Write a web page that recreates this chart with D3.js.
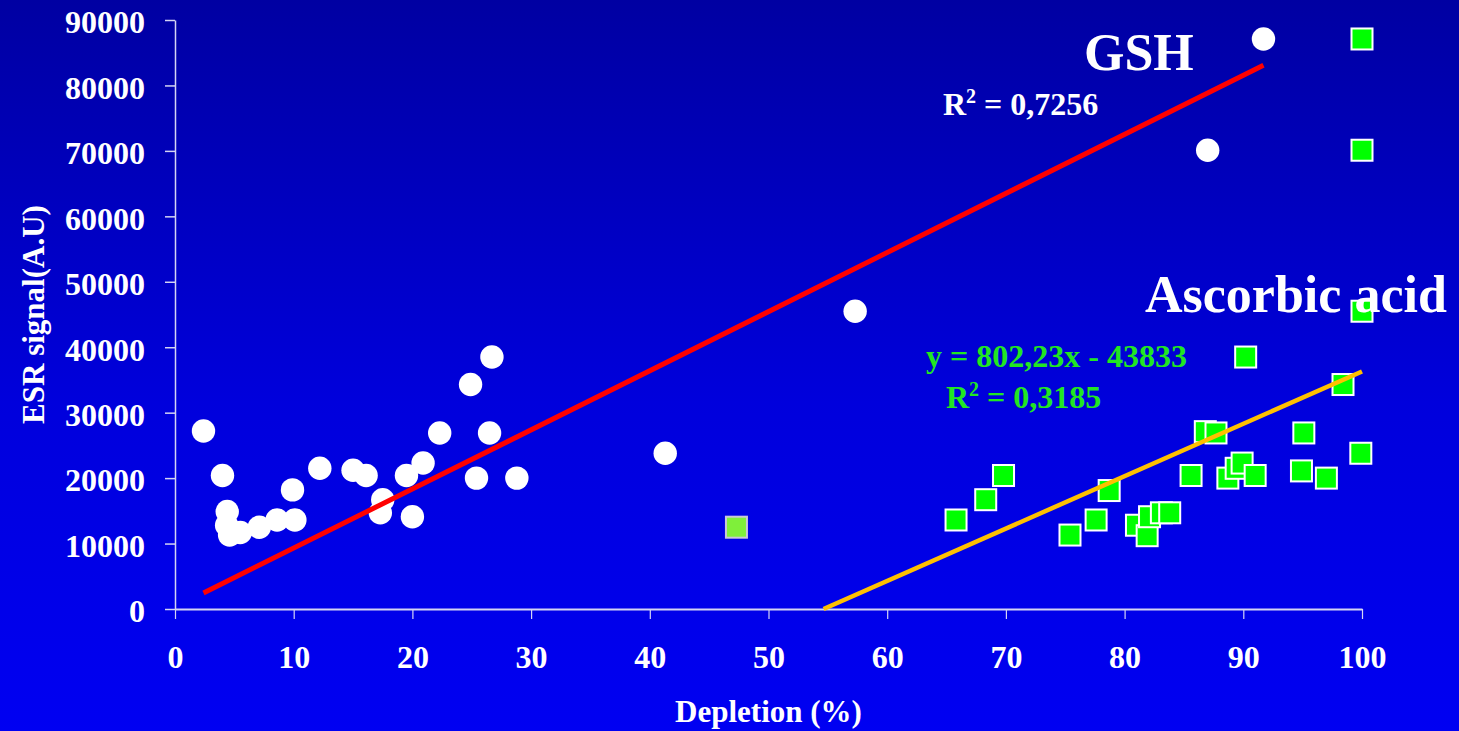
<!DOCTYPE html>
<html>
<head>
<meta charset="utf-8">
<script src="https://cdn.jsdelivr.net/npm/d3@7"></script>
<style>
  html, body { margin: 0; padding: 0; background: #0000c0; overflow: hidden; }
  svg { display: block; font-family: "Liberation Serif", "Times New Roman", serif; font-weight: bold; }
</style>
</head>
<body>
<svg id="chart"></svg>
<script>
// Tick values
const xTicks = [0, 10, 20, 30, 40, 50, 60, 70, 80, 90, 100];
const yTicks = [0, 10000, 20000, 30000, 40000, 50000, 60000, 70000, 80000, 90000];

// GSH series (white circles)
const gshDepletion = [2.4, 4.0, 4.4, 4.35, 4.6, 5.5, 7.1, 8.6, 10.1, 9.9, 12.2, 15.0, 16.1, 19.5,
  20.9, 17.5, 17.3, 20.0, 22.3, 26.5, 24.9, 26.7, 25.4, 28.8, 41.3, 57.3, 87.0, 91.7];
const gshSignal = [27200, 20400, 14900, 12800, 11300, 11700, 12500, 13600, 13600, 18200, 21500, 21200, 20400, 20400,
  22300, 16700, 14700, 14100, 26900, 26900, 34300, 38500, 20000, 20000, 23800, 45500, 70100, 87100];

// Ascorbic acid series (green squares)
const ascDepletion = [65.8, 68.3, 69.8, 75.4, 77.6, 78.7, 81.0, 81.9, 82.1, 83.1, 83.8, 85.6, 86.8, 87.7,
  88.7, 89.4, 89.9, 91.0, 90.2, 94.9, 95.1, 97.0, 98.4, 99.9, 100, 100, 100];
const ascSignal = [13600, 16700, 20400, 11300, 13600, 18100, 12800, 11200, 14100, 14700, 14700, 20400, 27100, 26900,
  20000, 21500, 22300, 20400, 38500, 21100, 26900, 20000, 34300, 23800, 45500, 70100, 87100];
// the one lighter square
const ascOutlierDepletion = [47.3];
const ascOutlierSignal = [12500];

// Trend lines as drawn (endpoints)
const gshTrend = [[2.4, 2450], [91.7, 83100]];
const ascTrend = [[54.64, 0], [100, 36300]];

const width = 1459, height = 731;
const margin = { top: 20, right: 97, bottom: 122, left: 175 };
const innerWidth = width - margin.left - margin.right;
const innerHeight = height - margin.top - margin.bottom;

const svg = d3.select('#chart')
  .attr('width', width)
  .attr('height', height)
  .attr('viewBox', `0 0 ${width} ${height}`);

// Background gradient
const grad = svg.append('defs').append('linearGradient')
  .attr('id', 'bg').attr('x1', 0).attr('y1', 0).attr('x2', 0).attr('y2', 1);
grad.append('stop').attr('offset', '0%').attr('stop-color', '#0000a2');
grad.append('stop').attr('offset', '55%').attr('stop-color', '#0000dc');
grad.append('stop').attr('offset', '100%').attr('stop-color', '#0000f2');
svg.append('rect').attr('width', width).attr('height', height).attr('fill', 'url(#bg)');

const xScale = d3.scaleLinear().domain([0, 100]).range([0, innerWidth]);
const yScale = d3.scaleLinear().domain([0, 90000]).range([innerHeight, 0]);

const g = svg.append('g').attr('transform', `translate(${margin.left}, ${margin.top})`);

const axisColor = '#d4d4f4';
const serif = '"Liberation Serif", "Times New Roman", serif';

// X axis
const xAxis = g.append('g')
  .attr('transform', `translate(0, ${innerHeight})`)
  .call(d3.axisBottom(xScale).tickValues(xTicks).tickFormat(d3.format('d'))
    .tickSize(10).tickSizeOuter(0).tickPadding(26));
xAxis.select('.domain').attr('stroke', axisColor).attr('stroke-width', 2);
xAxis.selectAll('.tick line').attr('stroke', axisColor).attr('stroke-width', 1.2);
xAxis.selectAll('text')
  .attr('fill', '#ffffff')
  .attr('font-size', '32px')
  .attr('font-family', serif)
  .attr('font-weight', 'bold');

// Y axis
const yAxis = g.append('g')
  .call(d3.axisLeft(yScale).tickValues(yTicks).tickFormat(d3.format('d'))
    .tickSize(10).tickSizeOuter(0).tickPadding(20));
yAxis.select('.domain').attr('stroke', axisColor).attr('stroke-width', 1.5);
yAxis.selectAll('.tick line').attr('stroke', axisColor).attr('stroke-width', 1.5);
yAxis.selectAll('text')
  .attr('fill', '#ffffff')
  .attr('font-size', '32px')
  .attr('dy', '0.4em')
  .attr('font-family', serif)
  .attr('font-weight', 'bold');

// Axis titles
svg.append('text')
  .attr('x', margin.left + innerWidth / 2)
  .attr('y', 722)
  .attr('text-anchor', 'middle')
  .attr('font-size', '31px')
  .attr('fill', '#ffffff')
  .text('Depletion (%)');

svg.append('text')
  .attr('transform', 'rotate(-90)')
  .attr('x', -(margin.top + innerHeight / 2))
  .attr('y', 44)
  .attr('text-anchor', 'middle')
  .attr('font-size', '31px')
  .attr('fill', '#ffffff')
  .text('ESR signal(A.U)');

// GSH points
g.append('g').selectAll('circle')
  .data(gshDepletion.map((x, i) => [x, gshSignal[i]]))
  .join('circle')
  .attr('cx', d => xScale(d[0]))
  .attr('cy', d => yScale(d[1]))
  .attr('r', 11.7)
  .attr('fill', '#ffffff');

// Ascorbic acid points
const sq = 21;
g.append('g').selectAll('rect')
  .data(ascDepletion.map((x, i) => [x, ascSignal[i]]))
  .join('rect')
  .attr('x', d => xScale(d[0]) - sq / 2)
  .attr('y', d => yScale(d[1]) - sq / 2)
  .attr('width', sq)
  .attr('height', sq)
  .attr('fill', '#00ff00')
  .attr('stroke', '#ffffff')
  .attr('stroke-width', 2);

g.append('g').selectAll('rect')
  .data(ascOutlierDepletion.map((x, i) => [x, ascOutlierSignal[i]]))
  .join('rect')
  .attr('x', d => xScale(d[0]) - sq / 2)
  .attr('y', d => yScale(d[1]) - sq / 2)
  .attr('width', sq)
  .attr('height', sq)
  .attr('fill', '#7fef3a')
  .attr('stroke', '#c8c8d8')
  .attr('stroke-width', 2);

// Trend lines
const line = d3.line().x(d => xScale(d[0])).y(d => yScale(d[1]));
g.append('path').datum(gshTrend).attr('d', line)
  .attr('stroke', '#ff0000').attr('stroke-width', 5).attr('fill', 'none');
g.append('path').datum(ascTrend).attr('d', line)
  .attr('stroke', '#ffc000').attr('stroke-width', 4.5).attr('fill', 'none');

// Labels
svg.append('text')
  .attr('x', 1084).attr('y', 70)
  .attr('font-size', '52px')
  .attr('fill', '#ffffff')
  .text('GSH');

svg.append('text')
  .attr('x', 1145).attr('y', 312)
  .attr('font-size', '52px')
  .attr('fill', '#ffffff')
  .text('Ascorbic acid');

function r2Label(x, y, value, color) {
  const t = svg.append('text')
    .attr('x', x).attr('y', y)
    .attr('font-size', '32px')
    .attr('fill', color);
  t.append('tspan').text('R');
  t.append('tspan').attr('font-size', '20px').attr('dy', '-12').text('2');
  t.append('tspan').attr('dy', '12').text(` = ${value}`);
}

r2Label(943, 115, '0,7256', '#ffffff');

svg.append('text')
  .attr('x', 926).attr('y', 367)
  .attr('font-size', '32px')
  .attr('fill', '#22e622')
  .text('y = 802,23x - 43833');

r2Label(946, 408, '0,3185', '#22e622');
</script>
</body>
</html>
